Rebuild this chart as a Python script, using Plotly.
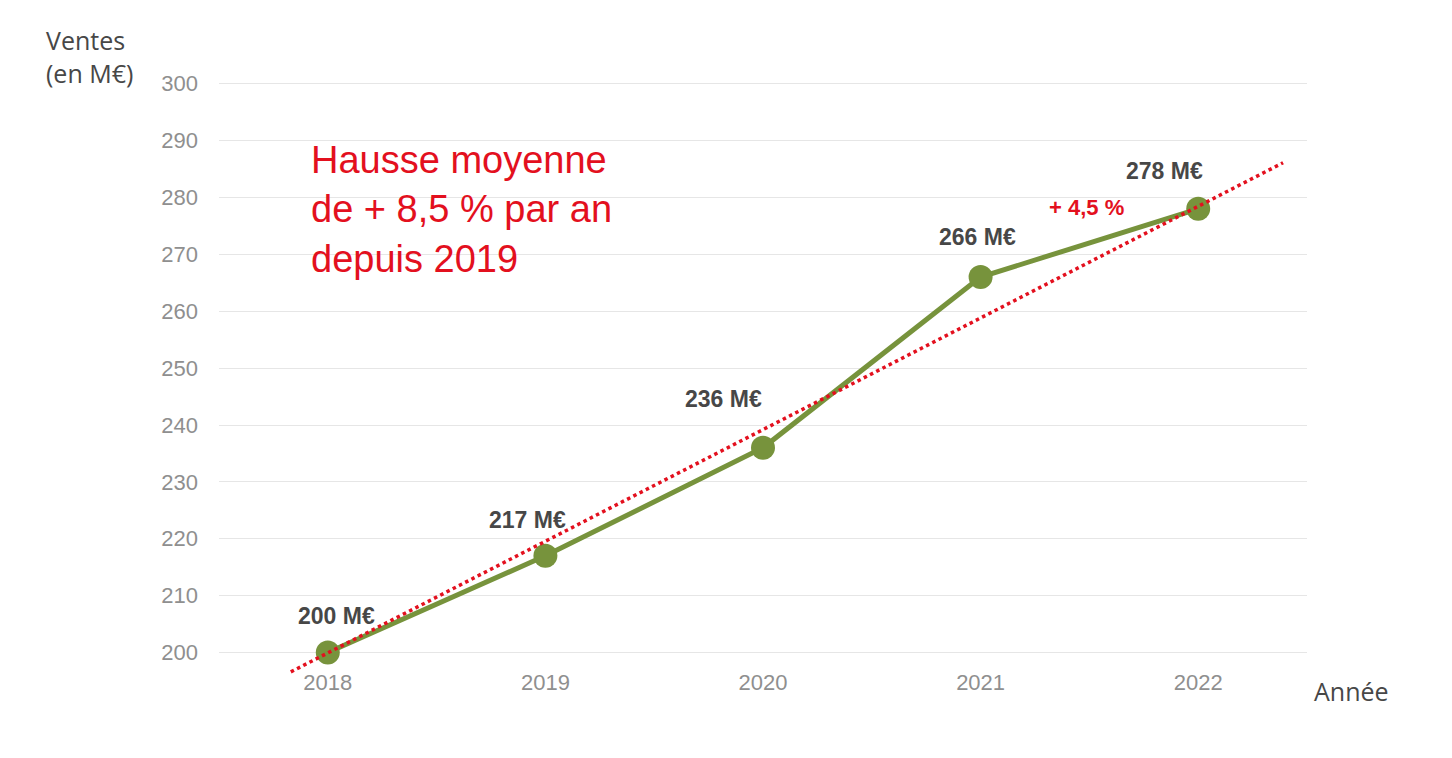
import plotly.graph_objects as go

# Ventes annuelles (en M€)
years = [2018, 2019, 2020, 2021, 2022]
sales = [200, 217, 236, 266, 278]
labels = ["200 M€", "217 M€", "236 M€", "266 M€", "278 M€"]

# droite de tendance (pointillés rouges), extrémités
trend_x = [2017.83, 2022.39]
trend_y = [196.6, 286.1]

y_ticks = [200, 210, 220, 230, 240, 250, 260, 270, 280, 290, 300]

# décalages des étiquettes (px) par rapport aux points
label_dx = [9, -18, -40, -3, -34]
label_dy = [37, 36, 49, 40, 38]

green = "#77933C"
red = "#E3101E"
dark = "#474747"
grey = "#8f8f8f"

fig = go.Figure()

fig.add_trace(go.Scatter(
    x=years,
    y=sales,
    mode="lines+markers",
    line=dict(color=green, width=5),
    marker=dict(size=24, color=green),
    hoverinfo="skip",
))

fig.add_trace(go.Scatter(
    x=trend_x,
    y=trend_y,
    mode="lines",
    line=dict(color=red, width=3.5, dash="dot"),
    hoverinfo="skip",
))

for x, y, t, dx, dy in zip(years, sales, labels, label_dx, label_dy):
    fig.add_annotation(
        x=x, y=y, text=t, showarrow=False,
        xshift=dx, yshift=dy,
        font=dict(family="Liberation Sans, Arial", size=23, color=dark, weight="bold"),
    )

# hausse 2021 -> 2022
fig.add_annotation(
    x=(years[3] + years[4]) / 2, y=(sales[3] + sales[4]) / 2,
    text="+ 4,5 %", showarrow=False, xshift=-3, yshift=35,
    font=dict(family="Liberation Sans, Arial", size=22, color=red, weight="bold"),
)

fig.add_annotation(
    xref="paper", yref="paper", x=0.0826, y=0.902,
    xanchor="left", yanchor="top", align="left",
    text="Hausse moyenne<br>de + 8,5 % par an<br>depuis 2019",
    showarrow=False,
    font=dict(family="Liberation Sans, Arial", size=38, color=red),
)

fig.add_annotation(
    xref="paper", yref="paper", x=-0.161, y=1.095,
    xanchor="left", yanchor="top", align="left",
    text="Ventes<br>(en M€)", showarrow=False,
    font=dict(family="Open Sans", size=25, color=dark),
)

fig.add_annotation(
    xref="paper", yref="paper", x=1.005, y=-0.016,
    xanchor="left", yanchor="middle",
    text="Année", showarrow=False,
    font=dict(family="Open Sans", size=25, color=dark),
)

fig.update_layout(
    width=1452,
    height=758,
    margin=dict(l=211, r=153, t=70, b=85),
    plot_bgcolor="white",
    paper_bgcolor="white",
    showlegend=False,
    xaxis=dict(
        range=[2017.5, 2022.5],
        tickvals=years,
        ticktext=[str(y) for y in years],
        showgrid=False,
        zeroline=False,
        showline=False,
        tickfont=dict(family="Liberation Sans, Arial", size=22, color=grey),
        ticklabelstandoff=-14,
    ),
    yaxis=dict(
        range=[195, 301],
        tickvals=y_ticks,
        showgrid=True,
        gridcolor="#e6e6e6",
        gridwidth=1,
        zeroline=False,
        showline=False,
        tickfont=dict(family="Liberation Sans, Arial", size=22, color=grey),
        ticklabelstandoff=20,
    ),
)

fig.write_html("out.html")
